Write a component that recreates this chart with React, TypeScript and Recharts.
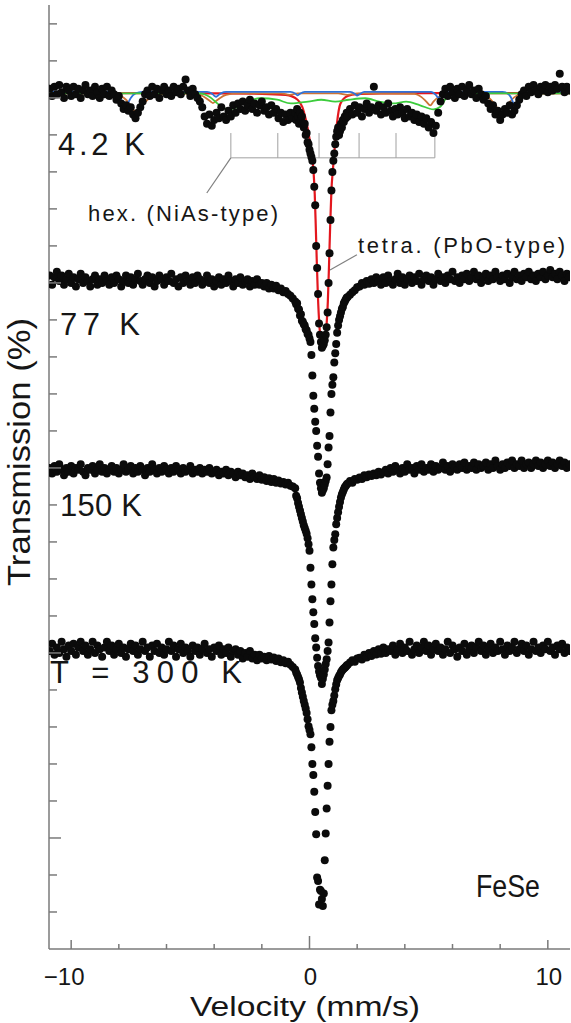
import React from "react";
import { ComposedChart, Scatter, Line, XAxis, YAxis, ReferenceLine } from "recharts";

// velocity channels (mm/s): coarse outside the central dip, fine across it
const VEL_LEFT = [
  -10.9, -10.8, -10.7, -10.6, -10.5, -10.4, -10.3, -10.2, -10.1, -10.0,
  -9.9, -9.8, -9.7, -9.6, -9.5, -9.4, -9.3, -9.2, -9.1, -9.0,
  -8.9, -8.8, -8.7, -8.6, -8.5, -8.4, -8.3, -8.2, -8.1, -8.0,
  -7.9, -7.8, -7.7, -7.6, -7.5, -7.4, -7.3, -7.2, -7.1, -7.0,
  -6.9, -6.8, -6.7, -6.6, -6.5, -6.4, -6.3, -6.2, -6.1, -6.0,
  -5.9, -5.8, -5.7, -5.6, -5.5, -5.4, -5.3, -5.2, -5.1, -5.0,
  -4.9, -4.8, -4.7, -4.6, -4.5, -4.4, -4.3, -4.2, -4.1, -4.0,
  -3.9, -3.8, -3.7, -3.6, -3.5, -3.4, -3.3, -3.2, -3.1, -3.0,
  -2.9, -2.8, -2.7, -2.6, -2.5, -2.4, -2.3, -2.2, -2.1, -2.0,
  -1.9, -1.8, -1.7, -1.6, -1.5, -1.4, -1.3, -1.2, -1.1, -1.0,
  -0.9, -0.8, -0.7,
];
const VEL_MID = [
  -0.6, -0.56, -0.52, -0.48, -0.44, -0.4, -0.36, -0.32, -0.28, -0.24,
  -0.2, -0.16, -0.12, -0.08, -0.04, 0.0, 0.04, 0.08, 0.12, 0.16,
  0.2, 0.24, 0.28, 0.32, 0.36, 0.4, 0.44, 0.48, 0.52, 0.56,
  0.6, 0.64, 0.68, 0.72, 0.76, 0.8, 0.84, 0.88, 0.92, 0.96,
  1.0, 1.04, 1.08, 1.12, 1.16, 1.2, 1.24, 1.28, 1.32, 1.36,
  1.4, 1.44, 1.48, 1.52, 1.56, 1.6,
];
const VEL_RIGHT = [
  1.7, 1.8, 1.9,
  2.0, 2.1, 2.2, 2.3, 2.4, 2.5, 2.6, 2.7, 2.8, 2.9,
  3.0, 3.1, 3.2, 3.3, 3.4, 3.5, 3.6, 3.7, 3.8, 3.9,
  4.0, 4.1, 4.2, 4.3, 4.4, 4.5, 4.6, 4.7, 4.8, 4.9,
  5.0, 5.1, 5.2, 5.3, 5.4, 5.5, 5.6, 5.7, 5.8, 5.9,
  6.0, 6.1, 6.2, 6.3, 6.4, 6.5, 6.6, 6.7, 6.8, 6.9,
  7.0, 7.1, 7.2, 7.3, 7.4, 7.5, 7.6, 7.7, 7.8, 7.9,
  8.0, 8.1, 8.2, 8.3, 8.4, 8.5, 8.6, 8.7, 8.8, 8.9,
  9.0, 9.1, 9.2, 9.3, 9.4, 9.5, 9.6, 9.7, 9.8, 9.9,
  10.0, 10.1, 10.2, 10.3, 10.4, 10.5, 10.6, 10.7, 10.8, 10.9,
];

// transmission, offset per spectrum (1 unit = 1 tick)
const T4_L = [
  23.25, 23.05, 23.3, 23.1, 23.35, 23.15, 23.0, 23.3, 23.2, 23.05,
  23.3, 23.1, 23.25, 23.0, 23.2, 23.35, 23.1, 23.2, 23.05, 23.3,
  23.15, 23.0, 23.25, 23.1, 23.3, 23.05, 23.2, 23.1, 22.95, 23.05,
  22.85, 22.7, 22.8, 22.65, 22.75, 22.55, 22.45, 22.6, 22.75, 22.9,
  23.1, 23.2, 23.05, 23.3, 23.1, 23.25, 23.0, 23.2, 23.3, 23.1,
  23.2, 23.05, 23.3, 23.15, 23.25, 23.1, 23.3, 23.5, 23.2, 23.05,
  23.25, 23.1, 23.0, 22.9, 22.75, 22.5, 22.3, 22.55, 22.25, 22.4,
  22.6, 22.45, 22.75, 22.5, 22.4, 22.65, 22.5, 22.8, 22.6, 22.85,
  22.7, 22.9, 22.65, 22.8, 22.95, 22.7, 22.85, 22.6, 22.8, 22.9,
  22.65, 22.75, 22.55, 22.8, 22.6, 22.7, 22.45, 22.6, 22.35, 22.55,
  22.4, 22.6, 22.45,
];
const T4_M = [
  22.6, 22.4, 22.7, 22.5, 22.3, 22.6, 22.4, 22.5, 22.3, 22.2,
  22.3, 22.0, 22.05, 21.8, 21.75, 21.6, 21.5, 21.4, 21.3, 21.05,
  20.6, 20.1, 19.0, 18.4, 17.7, 16.9, 16.6, 16.4, 16.25, 16.3,
  16.35, 16.45, 16.6, 16.8, 17.2, 18.0, 18.8, 19.7, 20.5, 21.0,
  21.3, 21.5, 21.75, 21.95, 22.1, 22.2, 22.0, 22.1, 22.3, 22.2,
  22.4, 22.35, 22.5, 22.45, 22.6, 22.5,
];
const T4_R = [
  22.7, 22.55, 22.8,
  22.6, 22.75, 22.5, 22.7, 22.85, 22.6, 22.75, 23.3, 22.65, 22.8,
  22.55, 22.75, 22.6, 22.85, 22.65, 22.5, 22.7, 22.55, 22.75, 22.6,
  22.45, 22.7, 22.5, 22.6, 22.4, 22.55, 22.35, 22.5, 22.3, 22.45,
  22.2, 22.35, 22.05, 22.25, 22.6, 22.9, 23.1, 23.25, 23.05, 23.3,
  23.15, 23.0, 23.25, 23.1, 23.3, 23.05, 23.2, 23.35, 23.1, 23.2,
  23.0, 23.25, 23.1, 22.95, 23.05, 22.85, 22.7, 22.8, 22.55, 22.65,
  22.4, 22.55, 22.7, 22.6, 22.8, 22.55, 22.65, 22.8, 22.95, 23.1,
  23.2, 23.05, 23.3, 23.15, 23.35, 23.2, 23.1, 23.3, 23.2, 23.35,
  23.15, 23.3, 23.2, 23.35, 23.25, 23.65, 23.3, 23.15, 23.3, 23.2,
];

const T77_L = [
  18.2, 17.95, 18.15, 18.3, 18.05, 18.2, 17.95, 18.1, 18.25, 18.0,
  18.15, 17.9, 18.1, 18.25, 18.0, 18.15, 18.05, 17.9, 18.1, 18.2,
  17.95, 18.1, 18.0, 18.2, 18.05, 17.95, 18.15, 18.0, 18.2, 18.1,
  17.9, 18.05, 18.2, 18.0, 18.15, 17.95, 18.1, 18.25, 18.05, 17.95,
  18.1, 18.2, 18.0, 18.15, 17.9, 18.05, 18.2, 18.1, 17.95, 18.15,
  18.05, 18.25, 18.0, 18.1, 17.9, 18.15, 18.0, 18.2, 18.05, 17.95,
  18.15, 18.0, 18.2, 18.1, 17.95, 18.05, 18.2, 18.0, 18.1, 17.9,
  18.05, 18.15, 17.95, 18.1, 18.0, 18.2, 18.05, 17.9, 18.1, 18.0,
  18.15, 17.95, 18.05, 18.1, 17.9, 18.05, 17.95, 18.1, 17.95, 18.0,
  17.9, 18.0, 17.85, 17.95, 17.85, 17.92, 17.8, 17.85, 17.75, 17.78,
  17.7, 17.65, 17.58,
];
const T77_M = [
  17.5, 17.42, 17.45, 17.3, 17.28, 17.12, 17.15, 16.98, 16.95, 16.88,
  16.85, 16.75, 16.72, 16.62, 16.6, 16.5, 16.4, 16.05, 15.5, 14.95,
  14.6, 14.25, 14.0, 13.6, 13.3, 12.85, 12.6, 12.45, 12.33, 12.4,
  12.45, 12.55, 12.65, 12.74, 13.1, 13.55, 13.86, 14.5, 15.0, 15.25,
  15.45, 15.85, 16.1, 16.35, 16.65, 16.85, 17.0, 17.1, 17.2, 17.3,
  17.35, 17.45, 17.5, 17.55, 17.6, 17.62,
];
const T77_R = [
  17.68, 17.75, 17.8,
  17.88, 17.9, 18.0, 17.95, 18.05, 17.98, 18.1, 18.0, 18.15, 18.05,
  17.95, 18.15, 18.0, 18.2, 18.05, 17.95, 18.1, 18.25, 18.0, 18.15,
  17.95, 18.1, 18.2, 18.0, 18.15, 18.05, 18.25, 17.95, 18.1, 18.2,
  18.05, 18.15, 17.95, 18.1, 18.25, 18.05, 18.15, 18.0, 18.2, 18.1,
  18.3, 18.05, 18.15, 18.0, 18.2, 18.1, 18.25, 18.05, 18.15, 18.3,
  18.1, 18.2, 18.0, 18.15, 18.25, 18.05, 18.2, 18.1, 18.3, 18.15,
  18.05, 18.2, 18.1, 18.25, 18.0, 18.15, 18.3, 18.1, 18.2, 18.05,
  18.25, 18.15, 18.3, 18.1, 18.2, 18.05, 18.25, 18.15, 18.3, 18.1,
  18.2, 18.35, 18.15, 18.25, 18.1, 18.3, 18.2, 18.05, 18.25, 18.15,
];

const T150_L = [
  13.0, 12.85, 13.05, 12.9, 13.1, 12.95, 12.8, 13.0, 12.9, 13.05,
  12.85, 13.0, 12.95, 13.1, 12.9, 12.8, 13.0, 12.95, 13.05, 12.85,
  12.95, 13.1, 12.9, 13.0, 12.85, 12.95, 13.05, 12.9, 13.0, 12.85,
  12.95, 13.1, 12.9, 12.95, 13.05, 12.85, 13.0, 12.9, 13.05, 12.95,
  12.8, 13.0, 12.9, 13.1, 12.95, 12.85, 13.0, 12.9, 13.05, 12.95,
  12.85, 13.0, 12.9, 13.05, 12.95, 12.85, 13.0, 12.9, 12.95, 13.05,
  12.85, 12.95, 12.9, 13.0, 12.85, 12.95, 12.9, 13.0, 12.85, 12.9,
  12.95, 12.8, 12.9, 12.85, 12.95, 12.8, 12.9, 12.85, 12.75, 12.9,
  12.8, 12.85, 12.75, 12.8, 12.7, 12.85, 12.75, 12.7, 12.8, 12.68,
  12.75, 12.65, 12.72, 12.62, 12.7, 12.6, 12.66, 12.58, 12.62, 12.55,
  12.6, 12.52, 12.5,
];
const T150_M = [
  12.45, 12.25, 12.18, 12.05, 11.95, 11.85, 11.75, 11.65, 11.55, 11.45,
  11.38, 11.3, 11.22, 11.1, 10.94, 10.76, 10.3, 9.85, 9.45, 9.1,
  8.78, 8.4, 8.15, 7.87, 7.65, 7.5, 7.4, 7.33, 7.16, 7.3,
  7.42, 7.55, 7.7, 7.83, 8.05, 8.28, 8.82, 9.4, 9.85, 10.4,
  10.85, 11.05, 11.21, 11.48, 11.65, 11.8, 11.95, 12.08, 12.2, 12.29,
  12.35, 12.42, 12.48, 12.51, 12.55, 12.58,
];
const T150_R = [
  12.65, 12.6, 12.7,
  12.68, 12.74, 12.7, 12.8, 12.75, 12.82, 12.78, 12.85, 12.8, 12.9,
  12.82, 12.88, 12.95, 12.85, 13.0, 12.9, 13.05, 12.95, 12.85, 13.0,
  12.9, 13.1, 12.95, 13.0, 12.85, 13.05, 12.95, 13.1, 12.9, 13.0,
  12.95, 13.1, 12.9, 13.05, 12.95, 13.0, 13.15, 12.95, 13.05, 12.9,
  13.1, 13.0, 12.95, 13.1, 13.0, 13.15, 12.95, 13.05, 13.0, 13.15,
  12.95, 13.1, 13.0, 13.05, 13.15, 12.95, 13.1, 13.0, 13.2, 13.05,
  12.95, 13.1, 13.0, 13.15, 13.05, 13.2, 13.0, 13.1, 13.05, 13.2,
  13.0, 13.1, 13.15, 13.0, 13.1, 13.2, 13.05, 13.15, 13.0, 13.1,
  13.2, 13.05, 13.15, 13.0, 13.1, 13.2, 13.05, 13.15, 13.0, 13.1,
];

const T300_L = [
  8.05, 8.25, 7.95, 8.15, 8.0, 8.3, 8.1, 7.9, 8.2, 8.05,
  8.25, 7.95, 8.15, 8.3, 8.05, 8.2, 7.95, 8.1, 8.3, 8.0,
  8.2, 8.1, 7.9, 8.15, 8.3, 8.05, 8.2, 7.95, 8.1, 8.25,
  8.0, 8.15, 7.9, 8.1, 8.25, 8.05, 8.2, 7.95, 8.1, 8.3,
  8.05, 8.15, 7.9, 8.2, 8.05, 8.25, 8.0, 8.15, 7.95, 8.1,
  8.3, 8.05, 8.2, 7.9, 8.1, 8.25, 8.0, 8.15, 8.05, 7.9,
  8.2, 8.05, 8.15, 7.95, 8.1, 8.25, 8.0, 8.1, 7.9, 8.15,
  8.05, 8.2, 7.95, 8.1, 8.0, 8.15, 7.9, 8.05, 8.1, 7.95,
  8.05, 7.85, 8.0, 7.9, 8.05, 7.85, 7.95, 7.8, 7.95, 7.85,
  7.9, 7.8, 7.92, 7.82, 7.88, 7.78, 7.85, 7.75, 7.8, 7.72,
  7.76, 7.68, 7.62,
];
const T300_M = [
  7.55, 7.47, 7.42, 7.35, 7.29, 7.2, 7.05, 6.93, 6.82, 6.7,
  6.6, 6.5, 6.38, 6.21, 6.02, 5.92, 5.8, 5.45, 5.0, 4.7,
  4.25, 3.7, 3.1, 1.93, 1.84, 1.2, 1.6, 1.57, 1.35, 1.16,
  1.5, 2.4, 3.12, 3.8, 4.41, 5.0, 5.6, 6.0, 6.45, 6.6,
  6.7, 6.85, 7.02, 7.15, 7.26, 7.32, 7.38, 7.42, 7.48, 7.52,
  7.55, 7.58, 7.6, 7.63, 7.66, 7.68,
];
const T300_R = [
  7.74, 7.8, 7.76,
  7.85, 7.87, 7.82, 7.95, 7.88, 8.0, 7.92, 8.05, 7.96, 8.1,
  7.98, 8.15, 8.0, 8.1, 8.05, 8.2, 7.95, 8.1, 8.25, 8.0,
  8.15, 8.05, 8.3, 7.95, 8.1, 8.2, 8.0, 8.15, 8.3, 8.05,
  8.2, 7.95, 8.1, 8.25, 8.05, 8.15, 7.95, 8.1, 8.3, 8.0,
  8.2, 8.1, 7.9, 8.15, 8.05, 8.25, 7.95, 8.1, 8.2, 8.0,
  8.15, 8.3, 8.05, 8.2, 7.95, 8.1, 8.25, 8.0, 8.15, 8.05,
  8.3, 8.1, 7.95, 8.2, 8.05, 8.15, 8.3, 8.0, 8.1, 8.25,
  8.05, 8.2, 7.95, 8.1, 8.3, 8.05, 8.15, 8.0, 8.2, 8.1,
  8.3, 8.05, 8.15, 7.95, 8.2, 8.1, 8.25, 8.0, 8.15, 8.05,
];

// 4.2 K fit components
const RED_V = [-10.93, -4, -2, -1, -0.5, -0.3, -0.15, 0, 0.1, 0.17, 0.22, 0.26, 0.3, 0.35, 0.42, 0.48, 0.53, 0.6, 0.66, 0.72, 0.77, 0.82, 0.87, 0.92, 0.98, 1.05, 1.15, 1.3, 1.6, 2, 3, 5, 10.93];
const RED_T = [23.13, 23.12, 23.11, 23.08, 22.95, 22.75, 22.4, 21.9, 21.45, 21.0, 20.4, 19.6, 18.7, 17.7, 16.8, 16.4, 16.2, 16.3, 16.45, 16.9, 17.5, 18.5, 19.6, 20.5, 21.05, 21.6, 22.3, 22.85, 23.05, 23.1, 23.12, 23.13, 23.13];
const ORANGE_V = [-10.93, -8.2, -7.9, -7.7, -7.5, -7.35, -7.26, -7.15, -7.0, -6.8, -6.5, -6.0, -5.0, -4.6, -4.35, -4.15, -4.05, -3.95, -3.75, -3.5, -3.0, -1.2, -0.83, -0.5, 1.2, 1.59, 2.0, 4.4, 4.7, 4.9, 5.07, 5.2, 5.4, 5.7, 6.5, 7.2, 7.5, 7.75, 7.95, 8.05, 8.15, 8.35, 8.6, 8.9, 9.5, 10.93];
const ORANGE_T = [23.13, 23.12, 23.05, 22.95, 22.8, 22.65, 22.6, 22.65, 22.8, 22.95, 23.06, 23.11, 23.12, 23.08, 23.0, 22.9, 22.86, 22.9, 23.0, 23.08, 23.12, 23.12, 23.08, 23.12, 23.12, 23.08, 23.12, 23.11, 23.02, 22.9, 22.8, 22.9, 23.02, 23.1, 23.12, 23.1, 23.02, 22.85, 22.66, 22.62, 22.66, 22.85, 23.02, 23.1, 23.12, 23.13];
const BLUE_V = [-10.93, -8.3, -8.05, -7.9, -7.8, -7.74, -7.65, -7.5, -7.3, -7.0, -4.3, -4.1, -3.98, -3.92, -3.85, -3.7, -3.5, -0.8, -0.6, -0.49, -0.4, -0.2, 1.7, 1.9, 2.0, 2.1, 2.3, 5.1, 5.3, 5.41, 5.5, 5.7, 8.1, 8.35, 8.5, 8.58, 8.63, 8.7, 8.85, 9.0, 9.3, 10.93];
const BLUE_T = [23.17, 23.16, 23.1, 22.95, 22.8, 22.76, 22.82, 23.0, 23.12, 23.16, 23.16, 23.12, 23.05, 23.03, 23.06, 23.13, 23.16, 23.16, 23.12, 23.07, 23.11, 23.16, 23.16, 23.11, 23.06, 23.1, 23.16, 23.16, 23.08, 23.0, 23.06, 23.15, 23.16, 23.1, 22.95, 22.8, 22.76, 22.82, 23.0, 23.12, 23.16, 23.17];
const GREEN_V = [-10.93, -4.63, -4.2, -3.77, -3.42, -3.12, -2.63, -2.07, -1.36, -0.78, -0.06, 0.49, 1.08, 1.65, 2.34, 2.93, 3.5, 4.06, 4.64, 5.2, 5.49, 5.78, 6.2, 10.93];
const GREEN_T = [23.12, 23.12, 23.03, 22.8, 22.69, 22.73, 22.9, 22.99, 22.95, 22.85, 22.9, 22.95, 22.9, 22.95, 22.99, 22.9, 22.85, 22.9, 22.8, 22.69, 22.76, 23.03, 23.12, 23.12];

// hex (NiAs-type) stick diagram
const HEX_LINES = [-3.3, -1.33, 0.4, 2.08, 3.63, 5.26];
const STICK_TOP = 22.05;
const STICK_BASE = 21.38;
const HEX_LEADER = [{ x: -3.3, y: 21.38 }, { x: -4.31, y: 20.43 }];
const TETRA_LEADER = [{ x: 0.86, y: 18.35 }, { x: 1.99, y: 18.76 }];

const X_TICKS = [-10, -8, -6, -4, -2, 0, 2, 4, 6, 8, 10];
const Y_TICKS = [1, 2, 3, 4, 5, 6, 7, 8, 9, 10, 11, 12, 13, 14, 15, 16, 17, 18, 19, 20, 21, 22, 23, 24, 25];
const Y_MAJOR = [3, 8, 13, 18, 23];

const VELOCITY = [...VEL_LEFT, ...VEL_MID, ...VEL_RIGHT];
const zip = (vals: number[]) => VELOCITY.map((v, i) => ({ v, t: vals[i] }));
const curve = (vs: number[], ts: number[]) => vs.map((v, i) => ({ v, t: ts[i] }));

const SPECTRA = [
  zip([...T4_L, ...T4_M, ...T4_R]),
  zip([...T77_L, ...T77_M, ...T77_R]),
  zip([...T150_L, ...T150_M, ...T150_R]),
  zip([...T300_L, ...T300_M, ...T300_R]),
];
// drawn in this order: green ends up on top along the baseline
const FITS = [
  { data: curve(RED_V, RED_T), color: "#e3171e", w: 2.2 },
  { data: curve(ORANGE_V, ORANGE_T), color: "#cc7436", w: 1.8 },
  { data: curve(BLUE_V, BLUE_T), color: "#2f72d8", w: 1.8 },
  { data: curve(GREEN_V, GREEN_T), color: "#3ccc3c", w: 1.8 },
];

const AXIS = "#7a7a7a";
const FONT = "'Liberation Sans', Arial, sans-serif";
const INK = "#161616";

const Dot = (p: any) => <circle cx={p.cx} cy={p.cy} r={4} fill="#0b0b0b" />;

const BottomTick = (p: any) => {
  const v = p.payload.value;
  const len = v === 0 ? 13 : Math.abs(v) === 10 ? 9 : 5;
  const label = v === -10 ? "\u221210" : v === 0 ? "0" : v === 10 ? "10" : null;
  return (
    <g>
      <line x1={p.x} x2={p.x} y1={p.y} y2={p.y - len} stroke={AXIS} strokeWidth={1.5} />
      {label && (
        <text x={p.x + (v < 0 ? -7 : 1)} y={p.y + 36} textAnchor="middle" fontSize={24} fontFamily={FONT} fill={INK}>
          {label}
        </text>
      )}
    </g>
  );
};
const TopTick = (p: any) => {
  const v = p.payload.value;
  const len = v === 0 ? 13 : Math.abs(v) === 10 ? 9 : 5;
  return <line x1={p.x} x2={p.x} y1={p.y} y2={p.y + len} stroke={AXIS} strokeWidth={1.5} />;
};
const LeftTick = (p: any) => {
  const len = Y_MAJOR.includes(p.payload.value) ? 12 : 8;
  return <line x1={p.x} x2={p.x + len} y1={p.y} y2={p.y} stroke={AXIS} strokeWidth={1.5} />;
};
const RightTick = (p: any) => {
  const len = Y_MAJOR.includes(p.payload.value) ? 12 : 8;
  return <line x1={p.x} x2={p.x - len} y1={p.y} y2={p.y} stroke={AXIS} strokeWidth={1.5} />;
};

export default function App() {
  const big = { fontFamily: FONT, fontSize: 31, fill: INK };
  const small = { fontFamily: FONT, fontSize: 22, fill: INK };
  return (
    <div style={{ position: "absolute", left: 0, top: 0, width: 571, height: 1023, background: "#fff" }}>
      <ComposedChart width={571} height={1023} margin={{ top: 5, right: 1, bottom: 0, left: 0 }}>
        <XAxis
          dataKey="v"
          type="number"
          domain={[-10.93, 10.93]}
          allowDataOverflow
          ticks={X_TICKS}
          interval={0}
          height={74}
          tickSize={0}
          tickMargin={0}
          tickLine={false}
          tick={<BottomTick />}
          axisLine={{ stroke: AXIS, strokeWidth: 1.5 }}
        />
        <XAxis
          xAxisId="top"
          orientation="top"
          dataKey="v"
          type="number"
          domain={[-10.93, 10.93]}
          allowDataOverflow
          ticks={X_TICKS}
          interval={0}
          height={0}
          tickSize={0}
          tickMargin={0}
          tickLine={false}
          tick={<TopTick />}
          axisLine={{ stroke: AXIS, strokeWidth: 1.5 }}
        />
        <YAxis
          type="number"
          domain={[0, 25.51]}
          allowDataOverflow
          ticks={Y_TICKS}
          interval={0}
          width={49}
          tickSize={0}
          tickMargin={0}
          tickLine={false}
          tick={<LeftTick />}
          axisLine={{ stroke: AXIS, strokeWidth: 1.5 }}
        />
        <YAxis
          yAxisId="right"
          orientation="right"
          type="number"
          domain={[0, 25.51]}
          allowDataOverflow
          ticks={Y_TICKS}
          interval={0}
          width={0}
          tickSize={0}
          tickMargin={0}
          tickLine={false}
          tick={<RightTick />}
          axisLine={{ stroke: AXIS, strokeWidth: 1.5 }}
        />
        {HEX_LINES.map((x) => (
          <ReferenceLine key={x} segment={[{ x, y: STICK_TOP }, { x, y: STICK_BASE }]} stroke="#a0a0a0" strokeWidth={1} />
        ))}
        <ReferenceLine
          segment={[{ x: HEX_LINES[0], y: STICK_BASE }, { x: HEX_LINES[HEX_LINES.length - 1], y: STICK_BASE }]}
          stroke="#a0a0a0"
          strokeWidth={1}
        />
        <ReferenceLine segment={HEX_LEADER} stroke="#808080" strokeWidth={1.2} />
        <ReferenceLine segment={TETRA_LEADER} stroke="#808080" strokeWidth={1.2} />
        {SPECTRA.map((d, i) => (
          <Scatter key={i} data={d} dataKey="t" shape={Dot} isAnimationActive={false} />
        ))}
        {FITS.map((f, i) => (
          <Line
            key={i}
            data={f.data}
            dataKey="t"
            type="monotone"
            stroke={f.color}
            strokeWidth={f.w}
            dot={false}
            activeDot={false}
            isAnimationActive={false}
          />
        ))}
      </ComposedChart>
      <svg width={571} height={1023} style={{ position: "absolute", left: 0, top: 0, pointerEvents: "none" }}>
        <text x={58} y={155} textLength={87} {...big}>4.2 K</text>
        <text x={60} y={335} textLength={80} {...big}>77 K</text>
        <text x={60} y={516} textLength={82} {...big}>150 K</text>
        <text x={50} y={683} textLength={192} {...big}>T = 300 K</text>
        <text x={476} y={897} textLength={64} lengthAdjust="spacingAndGlyphs" {...big}>FeSe</text>
        <text x={88} y={221} textLength={190} {...small}>hex. (NiAs-type)</text>
        <text x={358} y={253} textLength={207} {...small}>tetra. (PbO-type)</text>
        <text
          x={305}
          y={1016}
          textAnchor="middle"
          textLength={230}
          lengthAdjust="spacingAndGlyphs"
          fontFamily={FONT}
          fontSize={27}
          fill={INK}
        >
          Velocity (mm/s)
        </text>
        <text
          transform="translate(30,452) rotate(-90)"
          textAnchor="middle"
          textLength={268}
          lengthAdjust="spacingAndGlyphs"
          {...big}
        >
          Transmission (%)
        </text>
      </svg>
    </div>
  );
}
